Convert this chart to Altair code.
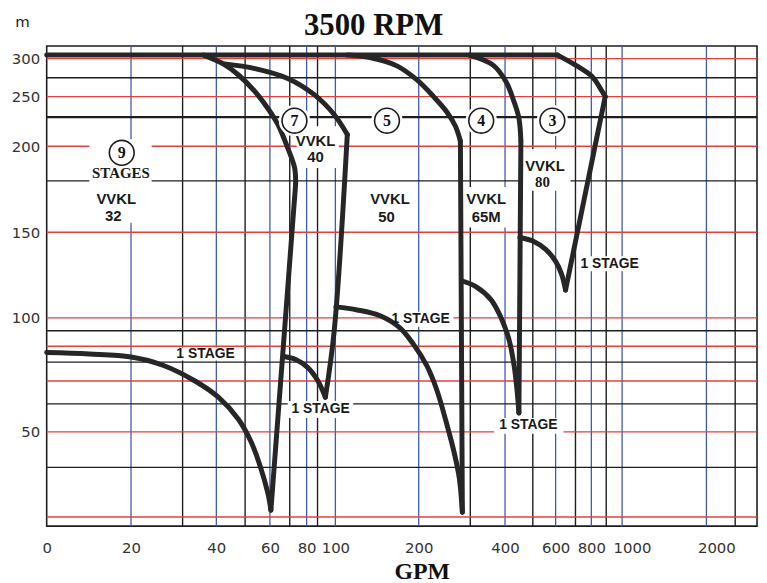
import altair as alt
import pandas as pd

# ---------------- axis ticks ----------------
x_ticks = [0, 20, 40, 60, 80, 100, 200, 400, 600, 800, 1000, 2000]
y_ticks = [50, 100, 150, 200, 250, 300]

# ---------------- grid lines ----------------
blue_v = [20, 40, 60, 80, 100, 200, 400, 600, 800, 1000, 2000]
black_v = [30, 50, 70, 90, 300, 500, 700, 900, 3000]
red_h = [300, 250, 200, 150, 100, 88, 72, 50, 13]
black_h = [275, 180, 95, 80, 62, 35]
black_h_thick = [230]

# ---------------- curves (GPM, m) ----------------
top_gpm = [0, 610]
top_m = [305, 305]

v32_top_gpm = [36.2, 42.4, 47.6, 54, 59.2, 64, 69, 72.9, 73.5]
v32_top_m = [305, 293.1, 278.9, 256.6, 238.4, 222.5, 198.9, 187.4, 178.3]
v32_edge_gpm = [73.5, 60.5]
v32_edge_m = [178.3, 16.0]
v32_one_gpm = [0, 10.1, 20, 26.3, 33.8, 40.7, 47.6, 52.4, 56.4, 59.2, 60.5]
v32_one_m = [84.85, 84.1, 82.6, 78.6, 71.9, 64.9, 55.5, 45.8, 34.4, 23.4, 16.0]

v40_top_gpm = [42.8, 54, 69, 87.3, 99.4, 114.3]
v40_top_m = [293.1, 287, 274.1, 252.2, 232.3, 212]
v40_edge_gpm = [114.3, 99.4, 94.4]
v40_edge_m = [212, 95.4, 64.9]
v40_one_gpm = [67, 73.5, 80.9, 90, 94.4]
v40_one_m = [82.85, 81.35, 77.8, 72.3, 64.9]

v50_top_gpm = [114.3, 144, 173.8, 197.6, 228.8, 253.8, 271.2, 280.8]
v50_top_m = [305, 300.9, 290.5, 272.4, 250, 235.5, 220.5, 205.1]
v50_edge_gpm = [280.8, 284.6]
v50_edge_m = [205.1, 15.1]
v50_one_gpm = [100.6, 126.2, 153.6, 177.4, 194, 215.4, 234.6, 253.8, 269.2, 278.8, 284.6]
v50_one_m = [106.4, 104.6, 101.2, 96.15, 88.76, 78.6, 68.4, 53.8, 40.8, 30.0, 15.1]

v65_top_gpm = [298, 365.7, 403.6, 432.1, 450, 457.1]
v65_top_m = [305, 291.5, 269.7, 245.2, 229, 205.1]
v65_edge_gpm = [457.1, 450]
v65_edge_m = [205.1, 58.1]
v65_one_gpm = [284.6, 317.1, 360, 388.6, 414.3, 432.1, 442.9, 450]
v65_one_m = [121.5, 118.1, 110.5, 100, 91.0, 79.0, 68.4, 58.1]

v80_top_gpm = [610, 700, 806.7, 860, 893.3]
v80_top_m = [305, 291.5, 276.3, 260.9, 250]
v80_edge_gpm = [893.3, 650]
v80_edge_m = [250, 116.2]
v80_one_gpm = [453.6, 504.3, 556.5, 600, 630, 650]
v80_one_m = [146.9, 144.6, 140, 133.0, 125.5, 116.2]

# ---------------- annotations ----------------
title_txt = ["3500 RPM"]
title_gpm = [145.8]
title_m = [333.6]

circle_txt = ["9", "7", "5", "4", "3"]
circle_gpm = [17.8, 72.8, 161.9, 331.4, 585.7]
circle_m = [196.2, 226.3, 226.3, 226.3, 226.3]

vvkl_txt = ["VVKL", "32", "VVKL", "40", "VVKL", "50", "VVKL", "65M", "VVKL"]
vvkl_gpm = [16.5, 15.8, 88.2, 88.2, 165.5, 161.3, 345.7, 345.7, 553.5]
vvkl_m = [169.6, 159.7, 205.8, 193.7, 169.6, 159.1, 169.6, 159.1, 188.8]

serif_txt = ["STAGES", "80"]
serif_gpm = [17.6, 542]
serif_m = [184.8, 179.4]

stage_txt = ["1 STAGE"] * 5
stage_gpm = [36.8, 91.7, 203.8, 921.9, 483.9]
stage_m = [84.35, 59.9, 99.5, 131.7, 52.8]

box_x1 = [10.1, 74.1, 136.9, 288.5, 460, 28.3, 69, 164.3, 718.8, 368.6]
box_x2 = [24, 104.2, 191.7, 407.1, 675, 47.6, 121.4, 267.3, 1223.5, 640]
box_y1 = [155.6, 187.4, 154.5, 152.7, 174.2, 80.85, 55.9, 96.5, 127.2, 49.2]
box_y2 = [207.2, 220.5, 174.8, 176.5, 198.3, 87.35, 63.2, 103.5, 135.9, 55.9]

# ---------------- scales (hand-drawn, piecewise) ----------------
X_DOMAIN = [0, 20, 30, 40, 50, 60, 70, 80, 90, 100, 200, 300, 400, 500, 600, 700, 800, 900, 1000, 2000, 3000, 4000]
X_RANGE = [0, 85, 137, 171, 200, 225, 245, 262, 273, 291, 375, 427, 462, 490, 513, 533, 549, 564, 580, 665, 694, 716]
Y_DOMAIN = [9, 13, 35, 50, 62, 72, 80, 88, 95, 100, 150, 180, 200, 230, 250, 275, 300, 318]
Y_RANGE = [484, 474.7, 424.7, 389, 360.7, 337.7, 318.7, 302.7, 287, 274, 187.7, 136, 101, 71.7, 51, 32, 12.7, 0]

xs = alt.Scale(domain=X_DOMAIN, range=X_RANGE, zero=False, nice=False)
ys = alt.Scale(domain=Y_DOMAIN, range=Y_RANGE, zero=False, nice=False)

x_axis = alt.Axis(
    values=x_ticks, format="d", title="GPM", labelPadding=22, labelBaseline="middle",
    labelFlush=False, labelOverlap=False,
    labelOffset={"condition": {"test": "datum.value >= 1000", "value": 10}, "value": 0},
    titleFont="Liberation Serif", titleFontSize=24, titleFontWeight="bold", titleColor="#111",
    titleX=378, titleY=53, titleAlign="center", titleBaseline="alphabetic",
)
y_axis = alt.Axis(
    values=y_ticks, format="d", title="m", labelPadding=7, labelBaseline="middle",
    labelAlign="right", labelFlush=False, labelOverlap=False,
    titleAngle=0, titleX=-25, titleY=-20, titleAlign="center", titleBaseline="alphabetic",
    titleFont="DejaVu Sans", titleFontSize=15, titleFontWeight="normal", titleColor="#222",
)

X = lambda f: alt.X(f, type="quantitative", scale=xs, axis=x_axis)
Y = lambda f: alt.Y(f, type="quantitative", scale=ys, axis=y_axis)

# ---------------- layers ----------------
blue_layer = alt.Chart(pd.DataFrame({"g": blue_v})).mark_rule(color="#3d5ca8", strokeWidth=1.3).encode(x=X("g"))
blackv_layer = alt.Chart(pd.DataFrame({"g": black_v})).mark_rule(color="#1e1e1e", strokeWidth=1.4).encode(x=X("g"))
red_layer = alt.Chart(pd.DataFrame({"h": red_h})).mark_rule(color="#e2403d", strokeWidth=1.4).encode(y=Y("h"))
blackh_layer = alt.Chart(pd.DataFrame({"h": black_h})).mark_rule(color="#1e1e1e", strokeWidth=1.4).encode(y=Y("h"))
blackt_layer = alt.Chart(pd.DataFrame({"h": black_h_thick})).mark_rule(color="#1e1e1e", strokeWidth=2.2).encode(y=Y("h"))

boxes = pd.DataFrame({"x1": box_x1, "x2": box_x2, "y1": box_y1, "y2": box_y2})
box_layer = alt.Chart(boxes).mark_rect(fill="white", opacity=1).encode(
    x=X("x1"), x2="x2", y=Y("y1"), y2="y2")

series = {
    "top": (top_gpm, top_m),
    "v32_top": (v32_top_gpm, v32_top_m), "v32_edge": (v32_edge_gpm, v32_edge_m), "v32_one": (v32_one_gpm, v32_one_m),
    "v40_top": (v40_top_gpm, v40_top_m), "v40_edge": (v40_edge_gpm, v40_edge_m), "v40_one": (v40_one_gpm, v40_one_m),
    "v50_top": (v50_top_gpm, v50_top_m), "v50_edge": (v50_edge_gpm, v50_edge_m), "v50_one": (v50_one_gpm, v50_one_m),
    "v65_top": (v65_top_gpm, v65_top_m), "v65_edge": (v65_edge_gpm, v65_edge_m), "v65_one": (v65_one_gpm, v65_one_m),
    "v80_top": (v80_top_gpm, v80_top_m), "v80_edge": (v80_edge_gpm, v80_edge_m), "v80_one": (v80_one_gpm, v80_one_m),
}
rows = []
for name, (gx, gy) in series.items():
    for i, (a, b) in enumerate(zip(gx, gy)):
        rows.append({"s": name, "o": i, "gpm": a, "m": b})
curve_df = pd.DataFrame(rows)
curve_layer = alt.Chart(curve_df).mark_line(
    color="#262626", strokeWidth=5, interpolate="catmull-rom", strokeCap="round", strokeJoin="round"
).encode(x=X("gpm"), y=Y("m"), detail="s:N", order="o:Q")

circ_df = pd.DataFrame({"gpm": circle_gpm, "m": circle_m, "t": circle_txt})
halo_layer = alt.Chart(circ_df).mark_point(shape="circle", filled=True, fill="white", size=1000, opacity=1, strokeWidth=0).encode(
    x=X("gpm"), y=Y("m"))
ring_layer = alt.Chart(circ_df).mark_point(shape="circle", filled=True, fill="white", stroke="#1a1a1a", strokeWidth=1.6,
                                           size=625, opacity=1).encode(x=X("gpm"), y=Y("m"))
circ_text = alt.Chart(circ_df).mark_text(font="Liberation Serif", fontWeight="bold", fontSize=16, color="#111",
                                         baseline="middle", align="center").encode(x=X("gpm"), y=Y("m"), text="t:N")

vvkl_layer = alt.Chart(pd.DataFrame({"gpm": vvkl_gpm, "m": vvkl_m, "t": vvkl_txt})).mark_text(
    font="Liberation Sans", fontWeight="bold", fontSize=15, color="#1a1a1a", baseline="middle", align="center"
).encode(x=X("gpm"), y=Y("m"), text="t:N")
serif_layer = alt.Chart(pd.DataFrame({"gpm": serif_gpm, "m": serif_m, "t": serif_txt})).mark_text(
    font="Liberation Serif", fontWeight="bold", fontSize=15, color="#1a1a1a", baseline="middle", align="center"
).encode(x=X("gpm"), y=Y("m"), text="t:N")
stage_layer = alt.Chart(pd.DataFrame({"gpm": stage_gpm, "m": stage_m, "t": stage_txt})).mark_text(
    font="Liberation Sans", fontWeight="bold", fontSize=14, color="#1a1a1a", baseline="middle", align="center"
).encode(x=X("gpm"), y=Y("m"), text="t:N")
title_layer = alt.Chart(pd.DataFrame({"gpm": title_gpm, "m": title_m, "t": title_txt})).mark_text(
    font="Liberation Serif", fontWeight="bold", fontSize=31, color="#111", baseline="alphabetic", align="center"
).encode(x=X("gpm"), y=Y("m"), text="t:N")

chart = alt.layer(
    blue_layer, blackv_layer, red_layer, blackh_layer, blackt_layer,
    box_layer, curve_layer, halo_layer, ring_layer, circ_text,
    vvkl_layer, serif_layer, stage_layer, title_layer,
).properties(
    width=716, height=484,
    padding={"left": 39, "top": 36, "right": 2, "bottom": 55},
    autosize=alt.AutoSizeParams(type="none"),
    background="white",
).configure_view(
    stroke="#1e1e1e", strokeWidth=1.6
).configure_axis(
    domain=False, ticks=False, tickSize=0, grid=False,
    labelFont="DejaVu Sans", labelFontSize=15, labelColor="#333",
)

chart.save("out.html", embed_options={"renderer": "svg", "actions": False})
